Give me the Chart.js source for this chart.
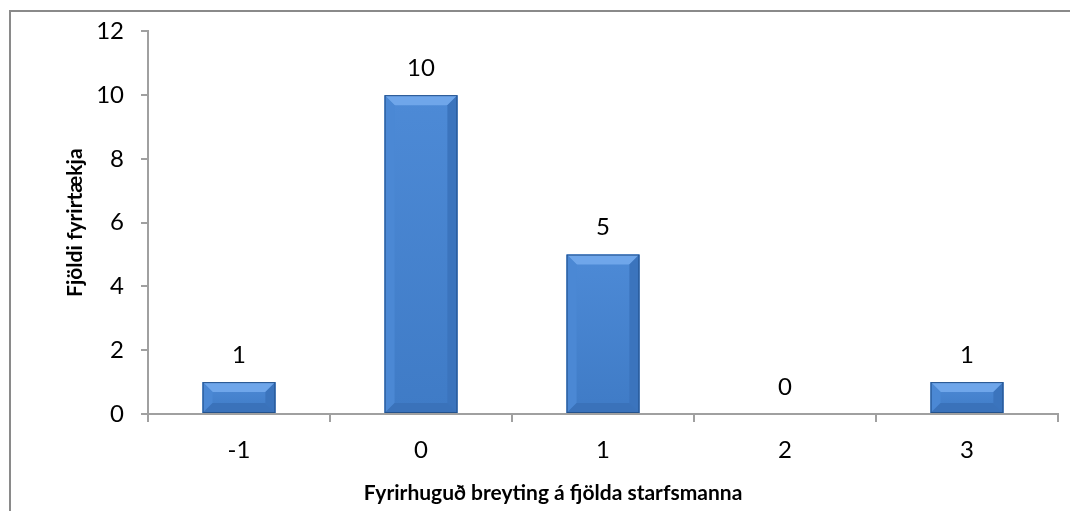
<!DOCTYPE html>
<html>
<head>
<meta charset="utf-8">
<script src="https://cdn.jsdelivr.net/npm/chart.js@4.4.1/dist/chart.umd.min.js"></script>
<style>
  body { margin: 0; background: #fff; }
  #wrap { position: relative; width: 1070px; height: 511px; overflow: hidden; }
</style>
</head>
<body>
<div id="wrap"><canvas id="chart" width="1070" height="511"></canvas></div>
<script>
const categories = ['-1', '0', '1', '2', '3'];
const companyCounts = [1, 10, 5, 0, 1];
const yTicks = [0, 2, 4, 6, 8, 10, 12];
const xTitle = 'Fyrirhuguð breyting á fjölda starfsmanna';
const yTitle = 'Fjöldi fyrirtækja';

const axisGray = '#a0a0a0';
const fontFamily = 'Lato, "Open Sans", sans-serif';

// ramminn utan um grafið + titill x-áss
const frame = {
    id: 'frame',
    beforeDraw(chart) {
        const ctx = chart.ctx;
        ctx.save();
        ctx.fillStyle = '#fff';
        ctx.fillRect(0, 0, chart.width, chart.height);
        ctx.strokeStyle = '#8a8a8a';
        ctx.lineWidth = 2;
        ctx.strokeRect(10, 11, chart.width + 20, chart.height + 20);
        ctx.restore();
    },
    afterDraw(chart) {
        const ctx = chart.ctx;
        ctx.save();
        ctx.font = 'bold 21px ' + fontFamily;
        ctx.fillStyle = '#000';
        ctx.textAlign = 'center';
        ctx.textBaseline = 'middle';
        ctx.fillText(xTitle, 553, 493);
        ctx.restore();
    }
};

// skáflötur á súlum (bevel)
const bevel = {
    id: 'bevel',
    afterDatasetsDraw(chart) {
        const ctx = chart.ctx;
        chart.getDatasetMeta(0).data.forEach(bar => {
            const h = bar.base - bar.y;
            if (h <= 0) return;
            const l = bar.x - bar.width / 2, r = bar.x + bar.width / 2;
            const t = bar.y, b = bar.base;
            const s = Math.min(10, h / 2);
            ctx.save();
            const g = ctx.createLinearGradient(0, t, 0, b);
            g.addColorStop(0, '#4d8ad6');
            g.addColorStop(1, '#3f7bc6');
            ctx.fillStyle = g;
            ctx.fillRect(l, t, r - l, h);
            const facet = (pts, color) => {
                ctx.beginPath();
                ctx.moveTo(pts[0][0], pts[0][1]);
                pts.slice(1).forEach(p => ctx.lineTo(p[0], p[1]));
                ctx.closePath();
                ctx.fillStyle = color;
                ctx.fill();
            };
            facet([[l, t], [r, t], [r - s, t + s], [l + s, t + s]], '#6fa6ea');
            facet([[l, t], [l + s, t + s], [l + s, b - s], [l, b]], '#4b88d4');
            facet([[r, t], [r, b], [r - s, b - s], [r - s, t + s]], '#3b74bd');
            facet([[l, b], [l + s, b - s], [r - s, b - s], [r, b]], '#3a72ba');
            ctx.strokeStyle = '#24528c';
            ctx.lineWidth = 1;
            ctx.strokeRect(l + 0.5, t + 0.5, r - l - 1, h - 1);
            ctx.restore();
        });
    }
};

// gildi fyrir ofan súlur
const valueLabels = {
    id: 'valueLabels',
    afterDatasetsDraw(chart) {
        const ctx = chart.ctx;
        ctx.save();
        ctx.font = '24px ' + fontFamily;
        ctx.fillStyle = '#000';
        ctx.textAlign = 'center';
        ctx.textBaseline = 'middle';
        chart.getDatasetMeta(0).data.forEach((bar, i) => {
            ctx.fillText(String(companyCounts[i]), bar.x, bar.y - 27);
        });
        ctx.restore();
    }
};

new Chart(document.getElementById('chart'), {
    type: 'bar',
    data: {
        labels: categories,
        datasets: [{
            data: companyCounts,
            backgroundColor: '#4584d1',
            borderWidth: 0,
            categoryPercentage: 0.8,
            barPercentage: 0.5
        }]
    },
    options: {
        responsive: false,
        animation: false,
        layout: { autoPadding: false, padding: { top: 28, right: 12, left: 0, bottom: 0 } },
        plugins: { legend: { display: false }, tooltip: { enabled: false } },
        scales: {
            x: {
                grid: { display: true, drawOnChartArea: false, tickLength: 8, color: axisGray, lineWidth: 2 },
                border: { color: axisGray, width: 2 },
                ticks: { color: '#000', font: { family: fontFamily, size: 24 }, padding: 14 },
                afterFit(scale) { scale.height = 97; }
            },
            y: {
                min: 0,
                max: 12,
                afterBuildTicks(scale) { scale.ticks = yTicks.map(v => ({ value: v })); },
                grid: { display: true, drawOnChartArea: false, tickLength: 7, color: axisGray, lineWidth: 2 },
                border: { color: axisGray, width: 2 },
                ticks: { color: '#000', font: { family: fontFamily, size: 24 }, padding: 17 },
                title: {
                    display: true,
                    text: yTitle,
                    color: '#000',
                    font: { family: fontFamily, size: 21, weight: 'bold' },
                    padding: { top: 63, bottom: 0 }
                },
                afterFit(scale) { scale.width = 148; }
            }
        }
    },
    plugins: [frame, bevel, valueLabels]
});
</script>
</body>
</html>
